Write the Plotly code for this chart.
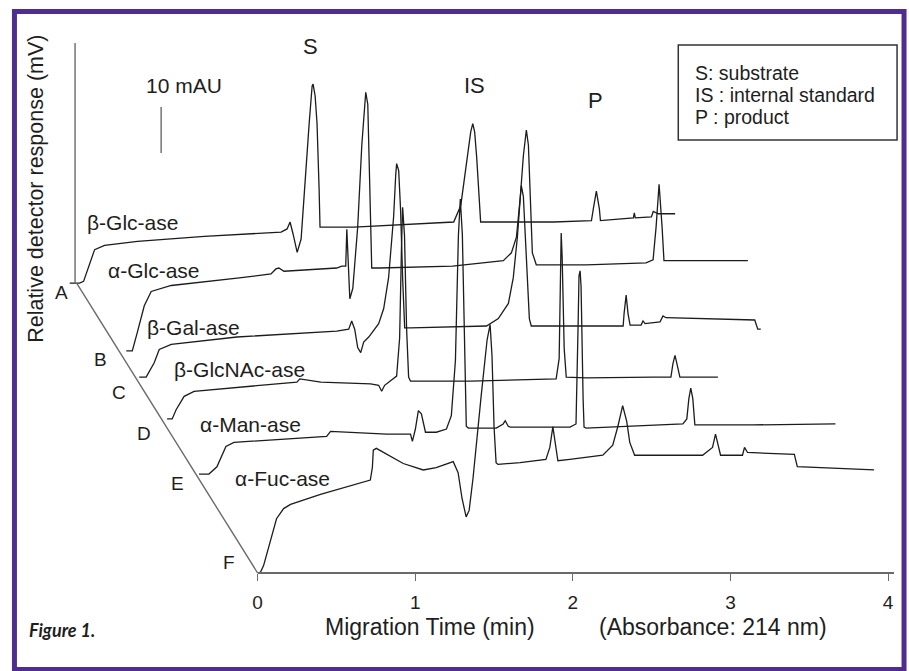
import plotly.graph_objects as go

# ---------------------------------------------------------------------------
# Electropherograms (migration time in min, detector signal in mAU), each one
# measured from its own start point; traces are stacked along a skewed offset
# axis (A at the back ... F at the front).
# ---------------------------------------------------------------------------
beta_glc = [(-0.063, 0), (0, 0), (0.025, 0.4), (0.095, 7.3), (0.158, 8.2), (0.367, 9.1),
            (0.791, 10.2), (1.278, 11.1), (1.316, 11.8), (1.335, 13.3), (1.354, 10.7),
            (1.380, 6.7), (1.405, 9.6), (1.430, 22.9), (1.456, 34.7), (1.475, 42.9),
            (1.481, 43.3), (1.494, 40.7), (1.506, 34.7), (1.519, 20.7), (1.525, 12.2),
            (1.741, 12.2), (2.057, 12.7), (2.373, 13.3), (2.418, 16.9), (2.456, 27.3),
            (2.481, 32.9), (2.494, 34.7), (2.506, 32.9), (2.519, 27.3), (2.532, 18.4),
            (2.544, 13.3), (3.006, 13.3), (3.247, 13.6), (3.259, 16.2), (3.278, 20.0),
            (3.297, 16.2), (3.304, 13.6), (3.513, 14.2), (3.519, 15.3), (3.525, 14.2),
            (3.627, 14.4), (3.639, 15.6), (3.671, 15.1), (3.778, 15.1)]

alpha_glc = [(0, 0), (0.038, 0), (0.070, 4.0), (0.114, 9.8), (0.158, 12.9), (0.285, 14.2),
             (0.703, 15.8), (0.918, 16.7), (0.949, 17.8), (0.968, 18.0), (1.0, 17.3),
             (1.335, 18.0), (1.367, 18.4), (1.392, 18.4), (1.399, 26.4), (1.405, 22.4),
             (1.418, 11.3), (1.437, 13.6), (1.468, 26.9), (1.494, 44.7), (1.513, 55.3),
             (1.519, 56.2), (1.532, 53.6), (1.544, 35.1), (1.551, 20.2), (1.557, 18.0),
             (1.608, 18.0), (2.070, 18.4), (2.392, 19.6), (2.443, 21.3), (2.475, 24.7),
             (2.500, 33.6), (2.519, 42.4), (2.538, 48.0), (2.551, 44.7), (2.563, 33.6),
             (2.576, 21.3), (2.601, 18.7), (2.918, 18.7), (3.297, 19.1), (3.342, 19.8),
             (3.361, 26.9), (3.380, 36.2), (3.399, 26.9), (3.411, 19.6), (3.551, 19.6),
             (3.943, 19.6)]

beta_gal = [(0, 0), (0.044, 0), (0.095, 3.1), (0.127, 6.0), (0.203, 7.1), (0.620, 8.7),
            (1.253, 10.0), (1.329, 10.4), (1.348, 12.2), (1.367, 10.4), (1.386, 6.4),
            (1.405, 5.3), (1.424, 7.6), (1.456, 8.7), (1.519, 11.6), (1.551, 14.9),
            (1.582, 21.6), (1.614, 34.9), (1.627, 43.8), (1.633, 46.4), (1.646, 44.9),
            (1.658, 36.4), (1.671, 21.6), (1.684, 10.7), (1.722, 10.7), (1.994, 10.9),
            (2.203, 11.1), (2.278, 12.7), (2.342, 16.0), (2.373, 21.6), (2.399, 30.4),
            (2.418, 39.3), (2.424, 41.6), (2.437, 39.3), (2.456, 26.0), (2.475, 12.7),
            (2.487, 11.1), (3.070, 11.1), (3.076, 13.8), (3.089, 17.8), (3.101, 13.8),
            (3.114, 11.3), (3.184, 11.3), (3.196, 12.2), (3.209, 11.6), (3.304, 12.0),
            (3.323, 13.3), (3.342, 12.9), (3.905, 12.4), (3.924, 10.4), (3.943, 10.4)]

beta_glcnac = [(0, 0), (0.032, 0), (0.057, 2.0), (0.108, 4.9), (0.171, 6.0), (0.443, 6.9),
               (0.823, 8.0), (0.842, 8.7), (0.975, 8.0), (1.291, 7.6), (1.342, 7.3),
               (1.361, 6.0), (1.380, 7.3), (1.456, 9.3), (1.475, 17.6), (1.487, 37.6),
               (1.494, 46.0), (1.506, 39.8), (1.519, 19.8), (1.532, 9.1), (1.544, 8.2),
               (1.924, 8.2), (2.468, 8.7), (2.487, 13.1), (2.494, 30.9), (2.500, 40.4),
               (2.506, 35.3), (2.519, 15.3), (2.532, 9.1), (2.658, 8.9), (3.082, 9.1),
               (3.196, 9.1), (3.209, 12.0), (3.222, 13.8), (3.234, 12.0), (3.253, 9.1),
               (3.494, 9.1)]

alpha_man = [(0, 0), (0.063, 0), (0.114, 1.6), (0.171, 6.0), (0.222, 6.9), (0.557, 7.6),
             (0.810, 8.2), (0.835, 9.3), (0.981, 9.1), (1.190, 8.7), (1.342, 8.7),
             (1.354, 7.1), (1.373, 9.8), (1.392, 13.8), (1.411, 13.1), (1.437, 9.1),
             (1.506, 9.1), (1.570, 9.8), (1.601, 12.7), (1.627, 24.7), (1.646, 52.0),
             (1.658, 59.8), (1.671, 52.0), (1.684, 25.3), (1.696, 10.4), (1.709, 10.0),
             (1.886, 10.0), (1.930, 10.9), (1.943, 11.6), (1.962, 10.4), (1.975, 10.2),
             (2.354, 10.2), (2.392, 10.9), (2.405, 32.0), (2.411, 43.1), (2.418, 44.2),
             (2.424, 40.9), (2.437, 16.4), (2.443, 10.2), (2.456, 10.0), (3.070, 10.9),
             (3.095, 12.0), (3.108, 16.4), (3.120, 18.7), (3.133, 16.4), (3.146, 10.7),
             (3.513, 10.7), (4.038, 10.9)]

alpha_fuc = [(0, 0), (0.019, 0.2), (0.038, 1.6), (0.082, 7.3), (0.120, 11.8), (0.165, 14.0),
             (0.209, 14.9), (0.399, 17.1), (0.715, 20.2), (0.728, 22.9), (0.734, 26.7),
             (0.753, 27.1), (0.829, 25.6), (0.924, 23.8), (1.051, 22.4), (1.133, 22.9),
             (1.241, 24.2), (1.272, 21.8), (1.297, 16.2), (1.323, 12.2), (1.342, 13.6),
             (1.367, 20.7), (1.418, 38.4), (1.456, 50.7), (1.475, 54.0), (1.487, 47.3),
             (1.500, 31.8), (1.513, 24.0), (1.525, 23.6), (1.665, 24.0), (1.829, 24.7),
             (1.854, 27.3), (1.873, 31.8), (1.892, 27.3), (1.905, 24.4), (1.981, 24.7),
             (2.190, 25.6), (2.253, 27.8), (2.285, 31.8), (2.316, 36.4), (2.342, 32.9),
             (2.361, 28.4), (2.392, 25.6), (2.823, 25.6), (2.886, 27.3), (2.905, 30.2),
             (2.924, 27.3), (2.937, 25.6), (3.076, 25.6), (3.089, 27.3), (3.108, 26.2),
             (3.405, 25.8), (3.424, 23.1), (3.911, 22.4)]

series = [beta_glc, alpha_glc, beta_gal, beta_glcnac, alpha_man, alpha_fuc]
trace_names = ["β-Glc-ase", "α-Glc-ase", "β-Gal-ase", "β-GlcNAc-ase", "α-Man-ase", "α-Fuc-ase"]
trace_letters = ["A", "B", "C", "D", "E", "F"]

# start point of every trace on the skewed offset axis (min, mAU)
offset_time = [-1.129, -0.833, -0.751, -0.574, -0.372, 0.0]
offset_signal = [63.0, 48.3, 42.6, 33.5, 21.5, 0.0]

time_ticks = [0, 1, 2, 3, 4]
scale_bar_mau = 10

# ---------------------------------------------------------------------------
W, H = 909, 671
PX_PER_MIN = 158.5      # horizontal scale
PX_PER_MAU = 4.6        # vertical scale
X0_PX, Y0_PX = 254, 573  # where time 0 / signal 0 of the front trace sits

x_range = [-X0_PX / PX_PER_MIN, (W - X0_PX) / PX_PER_MIN]
y_range = [-(H - Y0_PX) / PX_PER_MAU, Y0_PX / PX_PER_MAU]

INK = "#1c1c1c"
AXIS = "#6a6a6a"
FONT = "Liberation Sans, Arial, Helvetica, sans-serif"

fig = go.Figure()

for pts, dt, ds, name in zip(series, offset_time, offset_signal, trace_names):
    fig.add_trace(go.Scatter(
        x=[t + dt for t, _ in pts], y=[s + ds for _, s in pts],
        mode="lines", line=dict(color=INK, width=1.3),
        name=name, hoverinfo="skip", showlegend=False))

# skewed offset axis (A -> F) and the vertical response axis behind trace A
fig.add_trace(go.Scatter(
    x=[offset_time[0] - 0.019, offset_time[-1]], y=[offset_signal[0], offset_signal[-1]],
    mode="lines", line=dict(color=AXIS, width=1.4), hoverinfo="skip", showlegend=False))
fig.add_trace(go.Scatter(
    x=[offset_time[0] - 0.029, offset_time[0] - 0.029], y=[offset_signal[0], 115.2],
    mode="lines", line=dict(color=AXIS, width=1.4), hoverinfo="skip", showlegend=False))

# 10 mAU scale bar
fig.add_trace(go.Scatter(
    x=[-0.612, -0.612], y=[91.3, 91.3 + scale_bar_mau],
    mode="lines", line=dict(color=AXIS, width=1.4), hoverinfo="skip", showlegend=False))

# carrier trace for the migration-time axis
fig.add_trace(go.Scatter(x=[0, 4], y=[None, None], xaxis="x2", yaxis="y",
                         mode="lines", hoverinfo="skip", showlegend=False))


def px(x):
    return x / W


def py(y):
    return 1 - y / H


def label(text, x, y, size, xanchor="center", angle=0, family=FONT):
    fig.add_annotation(text=text, x=px(x), y=py(y), xref="paper", yref="paper",
                       xanchor=xanchor, yanchor="middle", showarrow=False,
                       textangle=angle, font=dict(family=family, size=size, color="#1e1e1e"))


label("Relative detector response (mV)", 31, 189, 21.5, angle=-90)
label("10 mAU", 180, 86, 21)
label("S", 307, 46, 22)
label("IS", 472, 85, 22)
label("P", 594, 100, 22)

name_pos = [(128, 223), (150, 270), (190, 327), (236, 370), (247, 424), (279, 479)]
for name, (x, y) in zip(trace_names, name_pos):
    label(name, x, y, 21)

letter_pos = [(57, 293), (96, 359), (115, 392), (140, 433), (173, 483), (225, 562)]
for letter, (x, y) in zip(trace_letters, letter_pos):
    label(letter, x, y, 19)

# key box
fig.add_shape(type="rect", xref="paper", yref="paper",
              x0=px(677), x1=px(897), y0=py(140), y1=py(45),
              line=dict(color="#333333", width=1.5))
label("S: substrate", 692, 73, 19.5, xanchor="left")
label("IS : internal standard", 692, 95, 19.5, xanchor="left")
label("P : product", 692, 117, 19.5, xanchor="left")

label("Migration Time (min)", 427, 627, 23)
label("(Absorbance: 214 nm)", 712, 627, 23)
label("<b><i>Figure 1.</i></b>", 22, 630, 18, xanchor="left", family="Lato, Open Sans, sans-serif")

# purple frame
fig.add_shape(type="rect", xref="paper", yref="paper",
              x0=px(9.5), x1=px(904), y0=py(669.5), y1=py(11.5),
              line=dict(color="#4f2c8f", width=5))

fig.update_layout(
    width=W, height=H,
    margin=dict(l=0, r=0, t=0, b=0),
    paper_bgcolor="white", plot_bgcolor="rgba(0,0,0,0)",
    xaxis=dict(range=x_range, domain=[0, 1], visible=False, fixedrange=True),
    yaxis=dict(range=y_range, domain=[0, 1], visible=False, fixedrange=True),
    xaxis2=dict(domain=[px(X0_PX), px(X0_PX + 640)], range=[0, 640 / PX_PER_MIN],
                anchor="free", position=py(Y0_PX),
                tickvals=time_ticks, ticktext=[str(t) for t in time_ticks],
                ticks="outside", ticklen=7, tickwidth=1.4, tickcolor=AXIS,
                showline=True, linecolor=AXIS, linewidth=1.5,
                showgrid=False, zeroline=False, ticklabelstandoff=5,
                tickfont=dict(family=FONT, size=19, color="#1e1e1e"),
                fixedrange=True),
    showlegend=False,
)

fig.write_html("out.html")
